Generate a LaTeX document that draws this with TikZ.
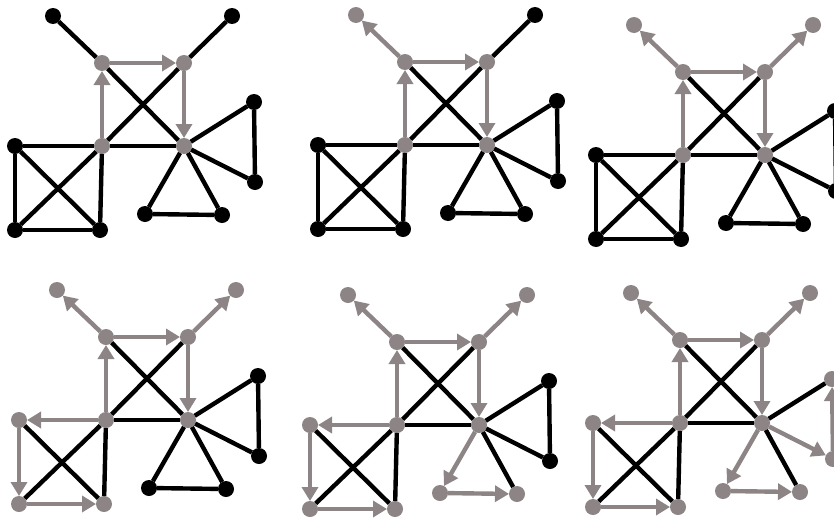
\documentclass[tikz,border=0pt]{standalone}
\usetikzlibrary{arrows.meta}
\definecolor{walkgray}{RGB}{141,133,133}
\tikzset{
  dot/.style={circle,fill=black,inner sep=0pt,outer sep=0pt,minimum size=16pt},
  seen/.style={fill=walkgray},
  edge/.style={line width=4.4pt,black},
  walk/.style={line width=4.4pt,walkgray,-{Triangle[length=14pt,width=16pt]}},
}
\begin{document}
\begin{tikzpicture}[x=1pt,y=-1pt]
\useasboundingbox (0,0) rectangle (834,522);
\clip (0,0) rectangle (834,522);
% one copy of the graph for each step of the walk
\foreach \p/\ox/\oy in {1/102/63,2/405/62,3/683/72,4/106/337,5/397/342,6/680/340}
{
  \foreach \n/\x/\y/\s in {a/0/0/1, b/82/0/1, c/0/83/1, d/82/83/1,
      tl/-49/-47/2, tr/130/-47/3,
      sq/-87/83/4, sb/-87/167/4, sr/-2/167/4,
      bl/43/151/5, br/120/152/5,
      rt/152/39/6, rb/153/119/6}
  {
    \ifnum\p<\s\relax
      \node[dot] (\n\p) at (\ox+\x,\oy+\y) {};
    \else
      \node[dot,seen] (\n\p) at (\ox+\x,\oy+\y) {};
    \fi
  }
  \foreach \f/\t in {a/d, c/b, c/d, sq/sr, sb/c, sr/c, d/rt, d/br}
    \draw[edge] (\f\p) -- (\t\p);
  \foreach \f/\t/\s in {c/a/1, a/b/1, b/d/1, a/tl/2, b/tr/3,
      c/sq/4, sq/sb/4, sb/sr/4, d/bl/5, bl/br/5, d/rb/6, rb/rt/6}
  {
    \ifnum\p<\s\relax
      \draw[edge] (\f\p) -- (\t\p);
    \else
      \draw[walk] (\f\p) -- (\t\p);
    \fi
  }
}
\end{tikzpicture}
\end{document}
